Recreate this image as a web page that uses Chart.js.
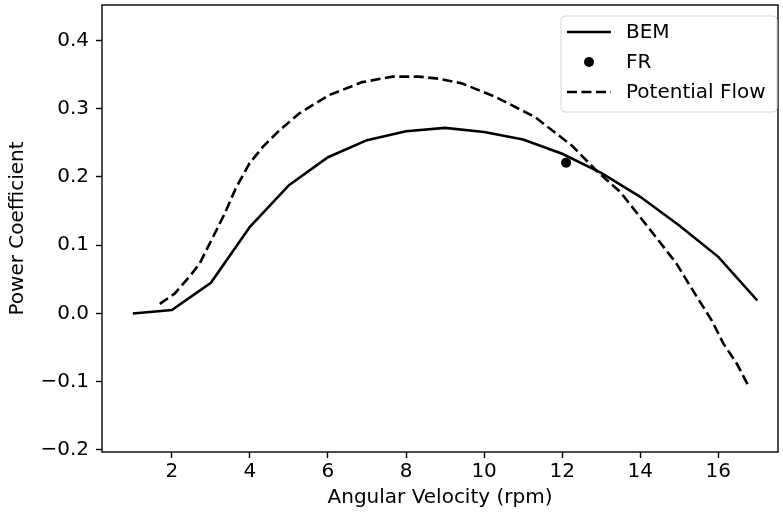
<!DOCTYPE html>
<html>
<head>
<meta charset="utf-8">
<script src="https://cdn.jsdelivr.net/npm/chart.js@4.4.1/dist/chart.umd.min.js"></script>
<style>
  html, body { margin: 0; padding: 0; background: #fff; }
  #wrap { width: 783px; height: 520px; }
</style>
</head>
<body>
<div id="wrap"><canvas id="cpChart" width="783" height="520"></canvas></div>
<script>
// BEM curve (angular velocity in rpm, power coefficient)
const bemRpm = [1, 2, 3, 4, 5, 6, 7, 8, 9, 10, 11, 12, 13, 14, 15, 16, 17];
const bemCp = [0.0, 0.005, 0.045, 0.127, 0.188, 0.229, 0.254, 0.267, 0.272, 0.266, 0.255, 0.234, 0.206, 0.171, 0.129, 0.083, 0.019];

// single FR measurement
const frRpm = [12.1];
const frCp = [0.221];

// potential flow curve
const pfRpm = [1.69, 2.07, 2.45, 2.71, 3.01, 3.35, 3.65, 3.99, 4.33, 4.75, 5.26, 6.03, 6.88, 7.65, 8.33, 8.84, 9.44, 10.3, 11.3, 12.25, 12.9, 13.49, 13.96, 14.47, 14.93, 15.4, 15.83, 16.13, 16.47, 16.77];
const pfCp = [0.014, 0.029, 0.054, 0.073, 0.107, 0.146, 0.185, 0.22, 0.244, 0.268, 0.293, 0.32, 0.339, 0.347, 0.347, 0.344, 0.337, 0.317, 0.288, 0.246, 0.208, 0.178, 0.144, 0.107, 0.073, 0.029, -0.01, -0.044, -0.073, -0.106];

const xTicks = [2, 4, 6, 8, 10, 12, 14, 16];
const yTicks = [-0.2, -0.1, 0.0, 0.1, 0.2, 0.3, 0.4];
const legendLabels = ['BEM', 'FR', 'Potential Flow'];

const FONT = 'DejaVu Sans';
const FONT_SIZE = 20;

function toPoints(xs, ys) {
    return xs.map((x, i) => ({ x: x, y: ys[i] }));
}

// box around the plot area
const framePlugin = {
    id: 'frame',
    afterDatasetsDraw(chart) {
        const a = chart.chartArea;
        const ctx = chart.ctx;
        ctx.save();
        ctx.strokeStyle = '#000';
        ctx.lineWidth = 1.4;
        ctx.strokeRect(a.left, a.top, a.right - a.left, a.bottom - a.top);
        ctx.restore();
    }
};

// matplotlib-like legend in the upper right corner
const legendPlugin = {
    id: 'boxLegend',
    afterDraw(chart) {
        const a = chart.chartArea;
        const ctx = chart.ctx;
        const bx = a.right - 217, by = a.top + 11, bw = 216, bh = 96;
        ctx.save();
        ctx.beginPath();
        ctx.roundRect(bx, by, bw, bh, 4);
        ctx.fillStyle = 'rgba(255,255,255,0.8)';
        ctx.fill();
        ctx.strokeStyle = '#d6d6d6';
        ctx.lineWidth = 1;
        ctx.stroke();

        const sx0 = bx + 6, sx1 = bx + 50, tx = bx + 65;
        const rows = [by + 16, by + 46, by + 76];
        ctx.strokeStyle = '#000';
        ctx.fillStyle = '#000';
        ctx.lineWidth = 2.6;

        // BEM
        ctx.beginPath();
        ctx.moveTo(sx0, rows[0]);
        ctx.lineTo(sx1, rows[0]);
        ctx.stroke();
        // FR
        ctx.beginPath();
        ctx.arc((sx0 + sx1) / 2, rows[1], 5, 0, Math.PI * 2);
        ctx.fill();
        // Potential Flow
        ctx.setLineDash([10, 4.5]);
        ctx.beginPath();
        ctx.moveTo(sx0, rows[2]);
        ctx.lineTo(sx1, rows[2]);
        ctx.stroke();
        ctx.setLineDash([]);

        ctx.font = FONT_SIZE + 'px "' + FONT + '"';
        ctx.textBaseline = 'middle';
        ctx.textAlign = 'left';
        legendLabels.forEach((t, i) => ctx.fillText(t, tx, rows[i] + 1));
        ctx.restore();
    }
};

const ctx = document.getElementById('cpChart').getContext('2d');
new Chart(ctx, {
    type: 'scatter',
    data: {
        datasets: [
            {
                label: legendLabels[0],
                data: toPoints(bemRpm, bemCp),
                showLine: true,
                borderColor: '#000',
                borderWidth: 2.6,
                pointRadius: 0,
                tension: 0,
                order: 2
            },
            {
                label: legendLabels[1],
                data: toPoints(frRpm, frCp),
                showLine: false,
                backgroundColor: '#000',
                borderColor: '#000',
                pointRadius: 5,
                borderWidth: 0,
                order: 0
            },
            {
                label: legendLabels[2],
                data: toPoints(pfRpm, pfCp),
                showLine: true,
                borderColor: '#000',
                borderWidth: 2.6,
                borderDash: [10, 4.5],
                pointRadius: 0,
                tension: 0,
                order: 1
            }
        ]
    },
    options: {
        responsive: false,
        animation: false,
        devicePixelRatio: 1,
        layout: { padding: { top: 5, right: 3, left: 0, bottom: 0 } },
        plugins: {
            legend: { display: false },
            tooltip: { enabled: false }
        },
        scales: {
            x: {
                type: 'linear',
                min: 0.21,
                max: 17.53,
                afterBuildTicks: axis => { axis.ticks = xTicks.map(v => ({ value: v })); },
                afterFit: axis => {
                    axis.height = 68;
                    axis.paddingLeft = 0;
                    axis.paddingRight = 0;
                },
                grid: {
                    drawOnChartArea: false,
                    drawTicks: true,
                    tickLength: 6,
                    tickWidth: 1.4,
                    tickColor: '#000'
                },
                border: { display: false },
                ticks: {
                    color: '#000',
                    padding: 2,
                    maxRotation: 0,
                    autoSkip: false,
                    font: { family: FONT, size: FONT_SIZE },
                    callback: v => String(v)
                },
                title: {
                    display: true,
                    text: 'Angular Velocity (rpm)',
                    color: '#000',
                    font: { family: FONT, size: FONT_SIZE },
                    padding: { top: 0, bottom: 10 }
                }
            },
            y: {
                type: 'linear',
                min: -0.203,
                max: 0.452,
                afterBuildTicks: axis => { axis.ticks = yTicks.map(v => ({ value: v })); },
                afterFit: axis => {
                    axis.width = 102;
                    axis.paddingTop = 0;
                    axis.paddingBottom = 0;
                },
                grid: {
                    drawOnChartArea: false,
                    drawTicks: true,
                    tickLength: 6,
                    tickWidth: 1.4,
                    tickColor: '#000'
                },
                border: { display: false },
                ticks: {
                    color: '#000',
                    padding: 7,
                    autoSkip: false,
                    font: { family: FONT, size: FONT_SIZE },
                    callback: v => v.toFixed(1).replace('-', '\u2212')
                },
                title: {
                    display: true,
                    text: 'Power Coefficient',
                    color: '#000',
                    font: { family: FONT, size: FONT_SIZE },
                    padding: { top: 6, bottom: 0 }
                }
            }
        }
    },
    plugins: [framePlugin, legendPlugin]
});
</script>
</body>
</html>
